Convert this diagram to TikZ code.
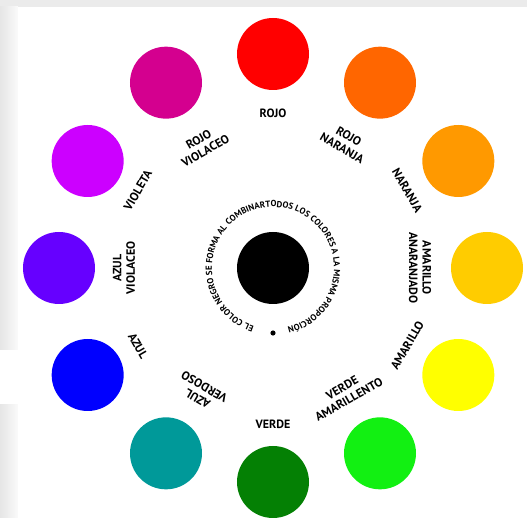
\documentclass[tikz,border=0pt]{standalone}
\usepackage{fontspec}
\setmainfont{PT Sans}
\usetikzlibrary{decorations.text}
\definecolor{crojo}{HTML}{FF0000}
\definecolor{crojonaranja}{HTML}{FF6600}
\definecolor{cnaranja}{HTML}{FF9900}
\definecolor{camarilloanaranjado}{HTML}{FFCC00}
\definecolor{camarillo}{HTML}{FFFF00}
\definecolor{cverdeamarillento}{HTML}{12F012}
\definecolor{cverde}{HTML}{048004}
\definecolor{cazulverdoso}{HTML}{009999}
\definecolor{cazul}{HTML}{0000FF}
\definecolor{cazulvioláceo}{HTML}{6600FF}
\definecolor{cvioleta}{HTML}{CC00FF}
\definecolor{crojovioláceo}{HTML}{D4008F}
\tikzset{
  huedot/.style = {
    circle,
    inner sep=0pt,
    minimum size=72pt
  },
  huelabel/.style = {
    align=center,
    inner sep=0pt,
    font=\fontsize{12}{13.5}\selectfont\bfseries
  }
}
\begin{document}
\begin{tikzpicture}[x=1pt,y=1pt]
    \useasboundingbox (-273,-250) rectangle (254,268);
    \fill[black!8] (-273,261) rectangle (254,268);
    \shade[left color=black!10, right color=black!2] (-273,-82) rectangle (-255,261);
    \shade[left color=black!10, right color=black!2] (-273,-250) rectangle (-255,-137);
    \node[huedot, fill=crojo] (rojo) at (90:214) {};
    \node[huedot, fill=crojonaranja] (rojonaranja) at (60:214) {};
    \node[huedot, fill=cnaranja] (naranja) at (30:214) {};
    \node[huedot, fill=camarilloanaranjado] (amarilloanaranjado) at (0:214) {};
    \node[huedot, fill=camarillo] (amarillo) at (-30:214) {};
    \node[huedot, fill=cverdeamarillento] (verdeamarillento) at (-60:214) {};
    \node[huedot, fill=cverde] (verde) at (-90:214) {};
    \node[huedot, fill=cazulverdoso] (azulverdoso) at (-120:214) {};
    \node[huedot, fill=cazul] (azul) at (-150:214) {};
    \node[huedot, fill=cazulvioláceo] (azulviolaceo) at (180:214) {};
    \node[huedot, fill=cvioleta] (violeta) at (150:214) {};
    \node[huedot, fill=crojovioláceo] (rojoviolaceo) at (120:214) {};
    \node[huedot, fill=black] (negro) at (0,0) {};
    \node[circle, fill=black, inner sep=0pt, minimum size=5.2pt] (punto) at (0,-65) {};
    \node[huelabel] (lrojo) at (90:155) {ROJO};
    \node[huelabel, rotate=-30] (lrojonaranja) at (60:145) {ROJO\\NARANJA};
    \node[huelabel, rotate=-60] (lnaranja) at (30:155) {NARANJA};
    \node[huelabel, rotate=-90] (lamarilloanaranjado) at (0:147) {AMARILLO\\ANARANJADO};
    \node[huelabel, rotate=60] (lamarillo) at (-30:155) {AMARILLO};
    \node[huelabel, rotate=30] (lverdeamarillento) at (-60:145) {VERDE\\AMARILLENTO};
    \node[huelabel] (lverde) at (-90:156) {VERDE};
    \node[huelabel, rotate=150] (lazulverdoso) at (-120:144) {AZUL\\VERDOSO};
    \node[huelabel, rotate=-60] (lazul) at (-150:156) {AZUL};
    \node[huelabel, rotate=90] (lazulviolaceo) at (180:149) {AZUL\\VIOLACEO};
    \node[huelabel, rotate=60] (lvioleta) at (150:156) {VIOLETA};
    \node[huelabel, rotate=30] (lrojoviolaceo) at (120:142) {ROJO\\VIOLACEO};
    \path[decorate, decoration={text along path, text align={fit to path},
      text={|\fontsize{8.8}{10}\selectfont\bfseries|EL COLOR NEGRO SE FORMA AL COMBINARTODOS LOS COLORES A LA MISMA PROPORCIÓN}}]
      (negro.center) ++(252:61) arc[start angle=252, end angle=-76, radius=61];
  \end{tikzpicture}
\end{document}
